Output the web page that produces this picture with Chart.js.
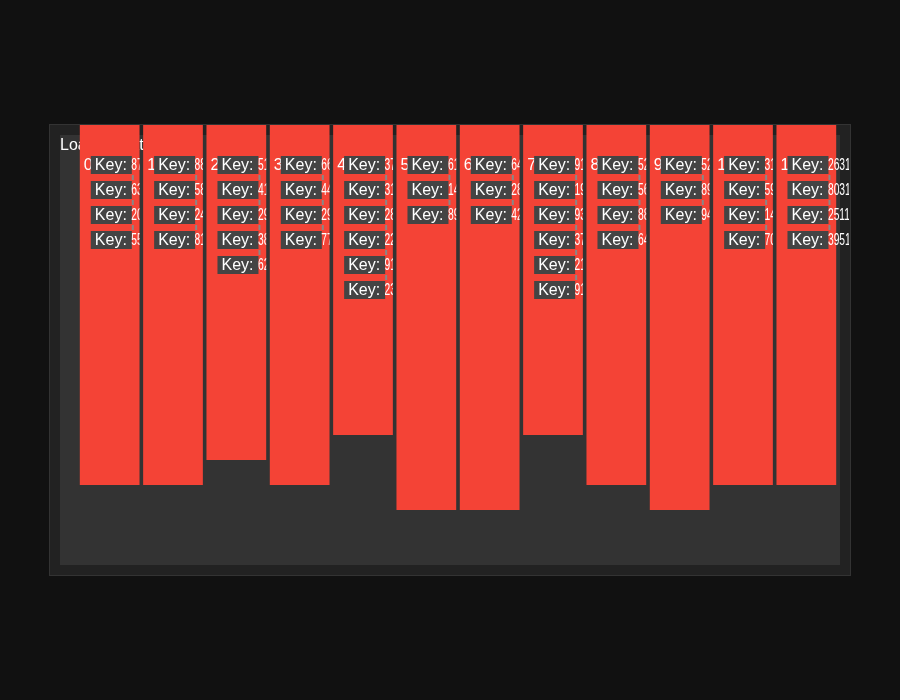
<!DOCTYPE html>
<html>
<head>
<meta charset="utf-8">
<title>Key columns</title>
<script src="https://cdn.jsdelivr.net/npm/chart.js@4.4.0/dist/chart.umd.min.js"></script>
<style>
    html, body { margin: 0; padding: 0; background: #111; }
    #wrap { width: 900px; height: 700px; }
</style>
</head>
<body>
<div id="wrap"><canvas id="chart" width="900" height="700"></canvas></div>
<script>
// --- Data ---
const categories = ['0', '1', '2', '3', '4', '5', '6', '7', '8', '9', '10', '11'];
const barDepths = [360, 360, 335, 360, 310, 385, 385, 310, 360, 385, 360, 360];
const keyValues = [
    ['87', '63', '20', '55'],
    ['88', '58', '24', '81'],
    ['51', '41', '29', '38', '62'],
    ['66', '44', '29', '77'],
    ['37', '31', '28', '22', '91', '23'],
    ['61', '14', '89'],
    ['64', '28', '42'],
    ['91', '19', '93', '37', '21', '91'],
    ['52', '56', '88', '64'],
    ['52', '89', '94'],
    ['31', '59', '14', '70'],
    ['2631', '8031', '2511', '3951']
];
const loadingText = 'Loading data...';

// --- Colors ---
const BAR_RED = '#f44336';
const FONT = '16px "Liberation Sans", Arial, sans-serif';

// panel + inner area, drawn under everything
const panelPlugin = {
    id: 'panel',
    beforeDraw(chart) {
        const ctx = chart.ctx;
        ctx.save();
        ctx.fillStyle = '#111';
        ctx.fillRect(0, 0, chart.width, chart.height);
        ctx.fillStyle = '#222';
        ctx.fillRect(50, 125, 800, 450);
        ctx.strokeStyle = '#333';
        ctx.lineWidth = 1;
        ctx.strokeRect(49.5, 124.5, 801, 451);
        ctx.fillStyle = '#333';
        ctx.fillRect(60, 135, 780, 430);
        ctx.restore();
    },
    beforeDatasetsDraw(chart) {
        // status text sits behind the columns
        const ctx = chart.ctx;
        ctx.save();
        ctx.font = FONT;
        ctx.fillStyle = '#fff';
        ctx.fillText(loadingText, 60, 150);
        ctx.restore();
    }
};

// "Key:" tags inside each column
const keyTagPlugin = {
    id: 'keyTags',
    afterDatasetsDraw(chart) {
        const ctx = chart.ctx;
        const bars = chart.getDatasetMeta(0).data;
        bars.forEach((bar, i) => {
            const left = bar.x - bar.width / 2;
            const right = i === bars.length - 1 ? 849 : bar.x + bar.width / 2;
            ctx.save();
            ctx.beginPath();
            ctx.rect(left, 125, right - left, 450);
            ctx.clip();
            ctx.font = FONT;

            // column index, mostly hidden behind the first tag
            ctx.fillStyle = '#fff';
            ctx.fillText(categories[i], left + 4, 170);

            const rows = keyValues[i];
            const keyW = ctx.measureText('Key: ').width;
            rows.forEach((val, r) => {
                const bx = left + 11;
                const by = 156 + r * 25;
                ctx.fillStyle = '#444';
                ctx.fillRect(bx, by, 41, 18);
                ctx.fillStyle = '#fff';
                ctx.fillText('Key: ', bx + 4, by + 14);
                // values are squeezed into the leftover width
                ctx.save();
                ctx.translate(bx + 4 + keyW, by + 14);
                ctx.scale(0.64, 1);
                ctx.fillText(val, 0, 0);
                ctx.restore();
                if (r < rows.length - 1) {
                    ctx.fillStyle = '#888';
                    ctx.fillRect(bx + 41, by + 19, 2, 5);
                }
            });
            ctx.restore();
        });
    }
};

new Chart(document.getElementById('chart'), {
    type: 'bar',
    data: {
        labels: categories,
        datasets: [{
            data: barDepths,
            backgroundColor: BAR_RED,
            borderWidth: 0,
            categoryPercentage: 1,
            barPercentage: 0.943
        }]
    },
    options: {
        responsive: false,
        animation: false,
        layout: { padding: { left: 78, right: 62, top: 125, bottom: 135 } },
        plugins: {
            legend: { display: false },
            tooltip: { enabled: false }
        },
        scales: {
            x: { display: false },
            y: { display: false, reverse: true, min: 0, max: 440 }
        }
    },
    plugins: [panelPlugin, keyTagPlugin]
});
</script>
</body>
</html>
